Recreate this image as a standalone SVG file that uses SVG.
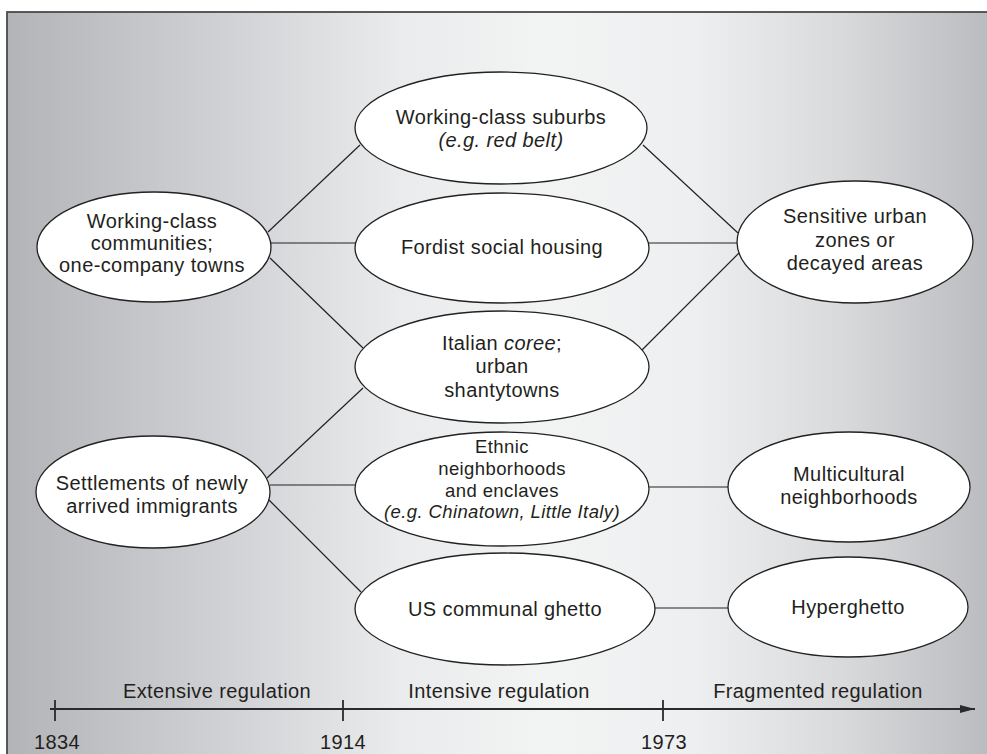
<svg xmlns="http://www.w3.org/2000/svg" width="987" height="754" viewBox="0 0 987 754">
<defs>
<linearGradient id="bg" x1="7" y1="0" x2="987" y2="0" gradientUnits="userSpaceOnUse">
<stop offset="0" stop-color="#b3b4b8"/>
<stop offset="0.25" stop-color="#d4d5d8"/>
<stop offset="0.4" stop-color="#eaebec"/>
<stop offset="0.55" stop-color="#f2f3f3"/>
<stop offset="0.7" stop-color="#eeeff0"/>
<stop offset="0.85" stop-color="#d9dadc"/>
<stop offset="1" stop-color="#bbbcbf"/>
</linearGradient>
<marker id="arrow" markerWidth="16" markerHeight="10" refX="15" refY="5" orient="auto" markerUnits="userSpaceOnUse">
<path d="M0,1 L15,5 L0,9 Z" fill="#2a2a2a"/>
</marker>
<style>
.node ellipse{fill:#ffffff;stroke:#222222;stroke-width:1.3}
text{font-family:"Liberation Sans",Arial,sans-serif;font-size:20px;fill:#231f20;text-anchor:middle;letter-spacing:0.4px}
.small{font-size:18.5px}
.it{font-style:italic}
.conn line{stroke:#222222;stroke-width:1.2}
.axis line{stroke:#2a2a2a;stroke-width:1.8}
</style>
</defs>
<rect x="7" y="12" width="990" height="760" fill="url(#bg)" stroke="#4a4a4a" stroke-width="1.8"/>

<g id="connectors" class="conn">
<line x1="268" y1="232" x2="360" y2="145"/>
<line x1="271" y1="243" x2="355" y2="243"/>
<line x1="270" y1="258" x2="363" y2="348"/>
<line x1="643" y1="145" x2="738" y2="233"/>
<line x1="649" y1="243" x2="737" y2="243"/>
<line x1="642" y1="350" x2="739" y2="253"/>
<line x1="267" y1="478" x2="363" y2="388"/>
<line x1="270" y1="485" x2="355" y2="485"/>
<line x1="269" y1="500" x2="361" y2="592"/>
<line x1="649" y1="487" x2="728" y2="487"/>
<line x1="655" y1="608" x2="728" y2="608"/>
</g>

<g id="n-workingclass" class="node">
<ellipse cx="154" cy="247" rx="117" ry="55"/>
<text x="152" y="228">Working-class</text>
<text x="152" y="250">communities;</text>
<text x="152" y="272">one-company towns</text>
</g>
<g id="n-settlements" class="node">
<ellipse cx="153" cy="492" rx="117" ry="56"/>
<text x="152" y="490">Settlements of newly</text>
<text x="152" y="513">arrived immigrants</text>
</g>
<g id="n-suburbs" class="node">
<ellipse cx="501" cy="128" rx="146" ry="56"/>
<text x="501" y="124">Working-class suburbs</text>
<text x="501" y="147" class="it">(e.g. red belt)</text>
</g>
<g id="n-fordist" class="node">
<ellipse cx="502" cy="248" rx="147" ry="55"/>
<text x="502" y="254">Fordist social housing</text>
</g>
<g id="n-italian" class="node">
<ellipse cx="502" cy="367" rx="147" ry="56"/>
<text x="502" y="350">Italian <tspan class="it">coree</tspan>;</text>
<text x="502" y="373">urban</text>
<text x="502" y="397">shantytowns</text>
</g>
<g id="n-ethnic" class="node">
<ellipse cx="502" cy="489" rx="147" ry="57"/>
<text x="502" y="453" class="small">Ethnic</text>
<text x="502" y="475" class="small">neighborhoods</text>
<text x="502" y="497" class="small">and enclaves</text>
<text x="502" y="518" class="small it">(e.g. Chinatown, Little Italy)</text>
</g>
<g id="n-usghetto" class="node">
<ellipse cx="505" cy="609" rx="150" ry="56"/>
<text x="505" y="616">US communal ghetto</text>
</g>
<g id="n-sensitive" class="node">
<ellipse cx="855" cy="242" rx="118" ry="61"/>
<text x="855" y="223">Sensitive urban</text>
<text x="855" y="247">zones or</text>
<text x="855" y="270">decayed areas</text>
</g>
<g id="n-multicultural" class="node">
<ellipse cx="849" cy="487" rx="121" ry="55"/>
<text x="849" y="481">Multicultural</text>
<text x="849" y="504">neighborhoods</text>
</g>
<g id="n-hyperghetto" class="node">
<ellipse cx="848" cy="607" rx="120" ry="50"/>
<text x="848" y="614">Hyperghetto</text>
</g>

<g id="timeline" class="axis">
<line x1="50" y1="709" x2="975" y2="709" marker-end="url(#arrow)"/>
<line x1="55" y1="700" x2="55" y2="721"/>
<line x1="343" y1="700" x2="343" y2="721"/>
<line x1="663" y1="700" x2="663" y2="721"/>
<text x="217" y="698">Extensive regulation</text>
<text x="499" y="698">Intensive regulation</text>
<text x="818" y="698">Fragmented regulation</text>
<text x="57" y="749">1834</text>
<text x="343" y="749">1914</text>
<text x="664" y="749">1973</text>
</g>
</svg>
